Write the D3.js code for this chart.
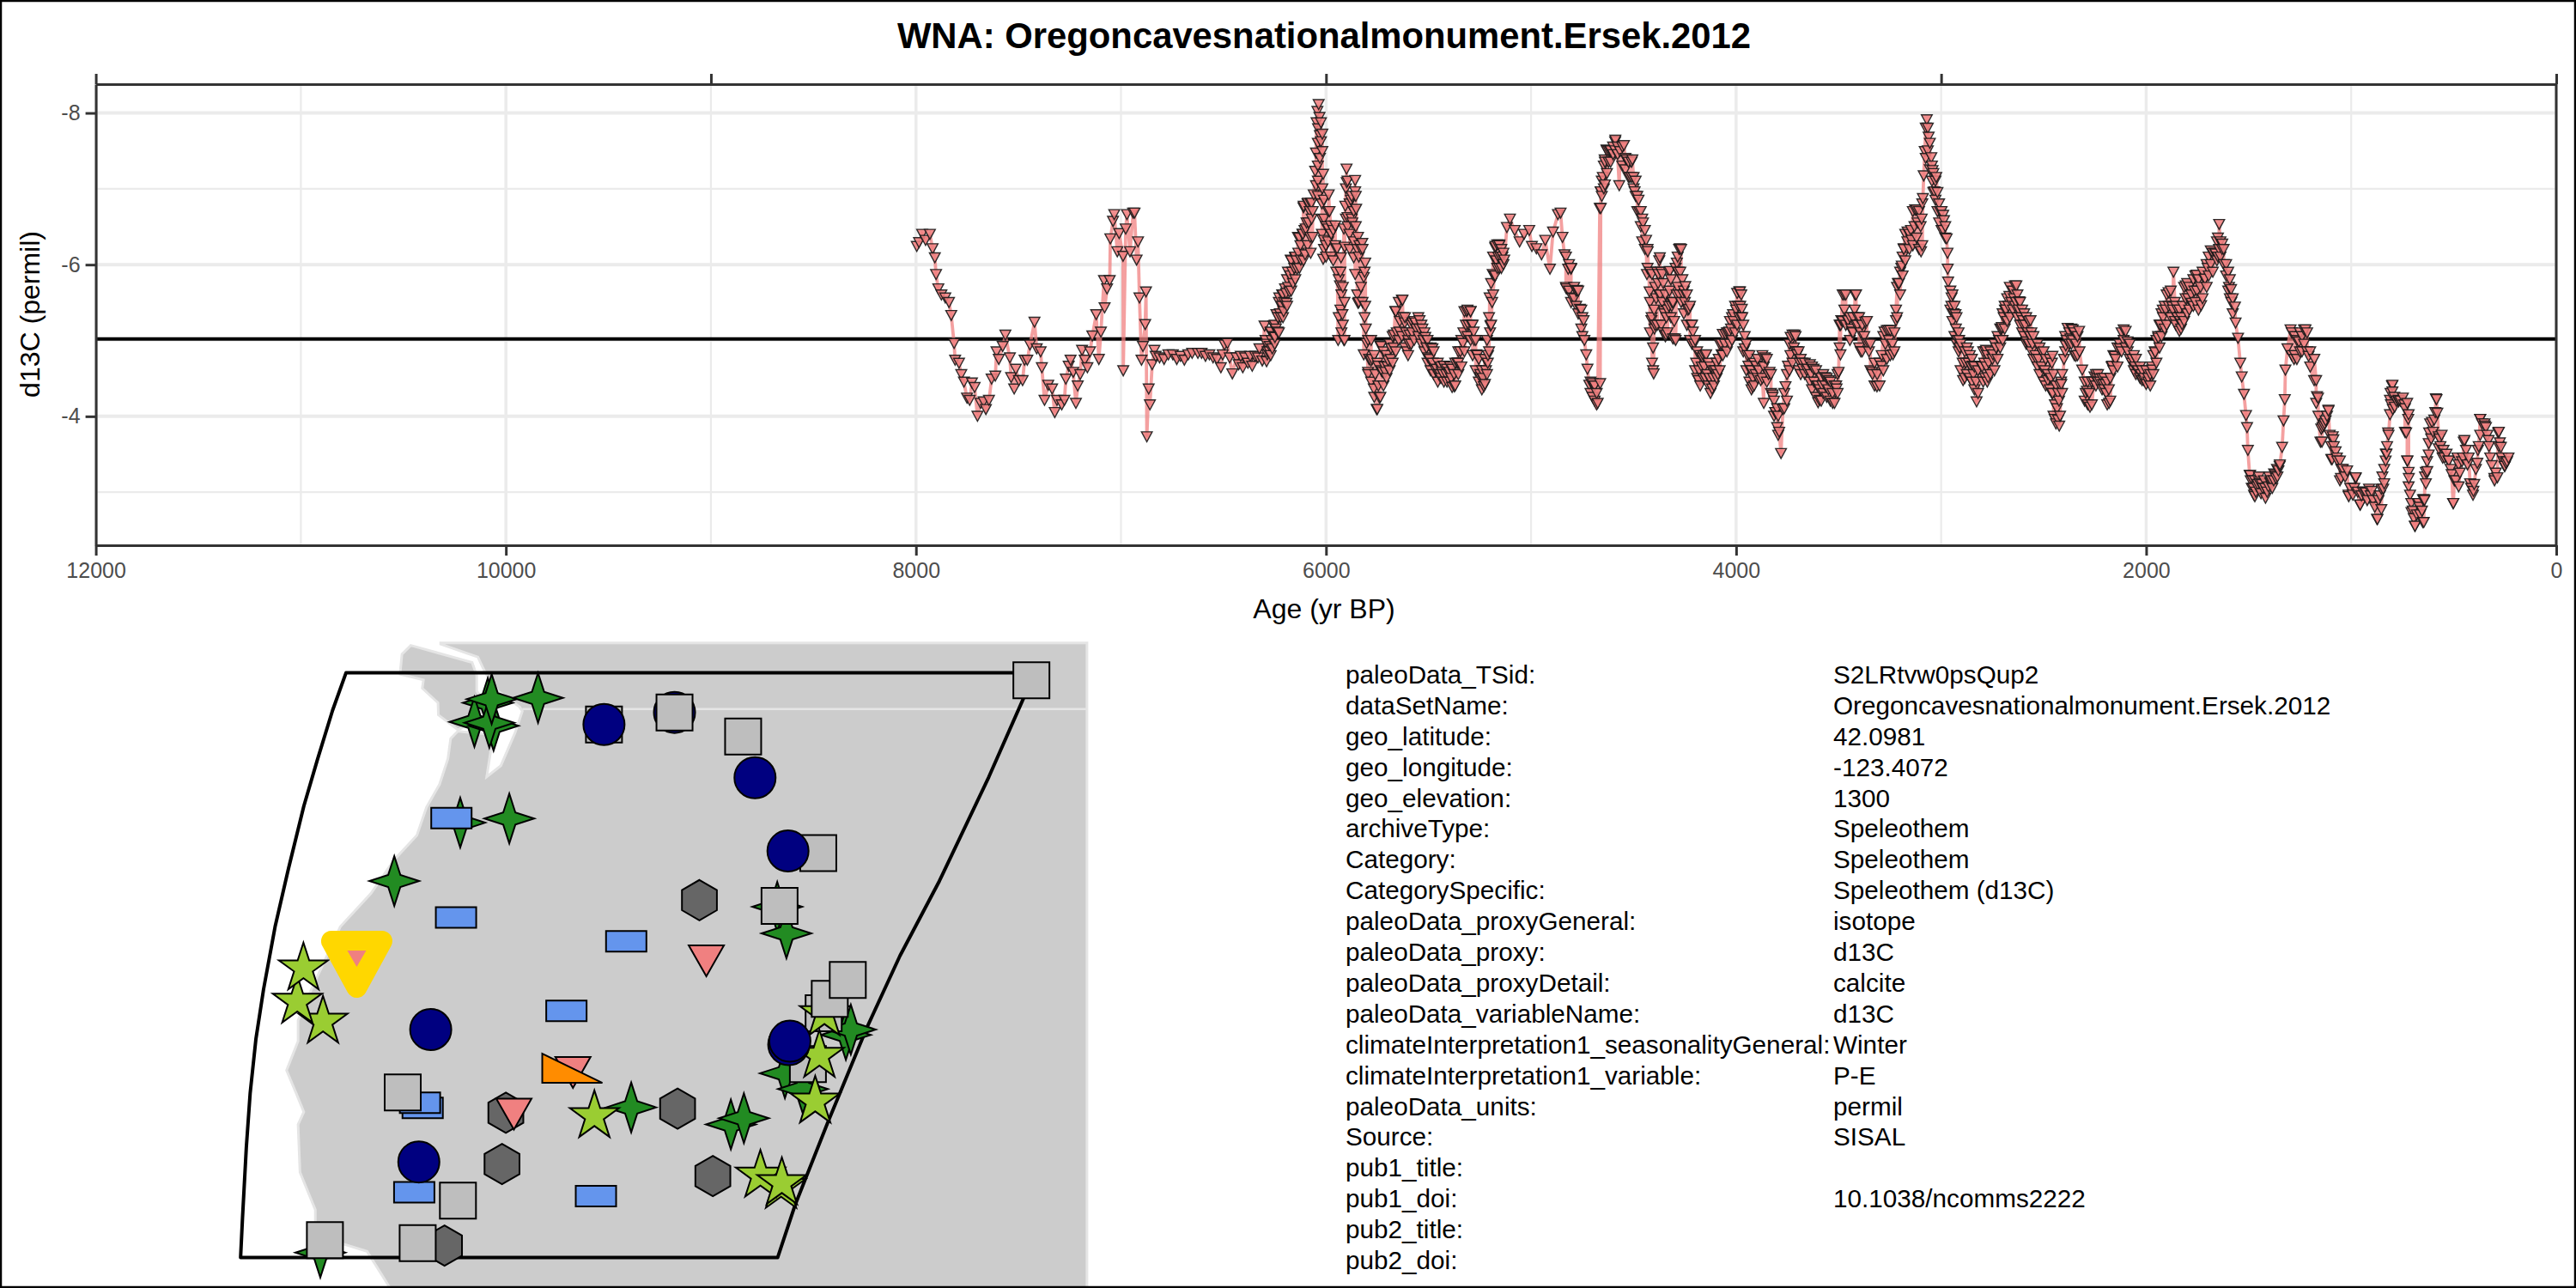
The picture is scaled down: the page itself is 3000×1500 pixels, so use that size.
<!DOCTYPE html>
<html>
<head>
<meta charset="utf-8">
<script src="https://d3js.org/d3.v7.min.js"></script>
<style>
  body { margin: 0; background: #fff; }
  text { font-family: "Liberation Sans", Arial, sans-serif; }
</style>
</head>
<body>
<svg id="chart" width="3000" height="1500"></svg>
<script>
var titleText = 'WNA: Oregoncavesnationalmonument.Ersek.2012';

// age (yr BP) and d13C (permil), same order in both arrays
var ages = [
  7996,7985,7970,7953,7932,7919,7908,7902,7891,7876,7857,7839,
  7828,7814,7809,7790,7779,7766,7751,7738,7727,7714,7700,7685,
  7670,7659,7644,7631,7613,7607,7596,7577,7564,7542,7536,7521,
  7513,7498,7480,7470,7457,7444,7422,7411,7392,7386,7373,7355,
  7336,7323,7312,7289,7276,7269,7255,7246,7233,7220,7211,7199,
  7190,7177,7164,7151,7140,7121,7108,7098,7083,7080,7068,7055,
  7052,7039,7033,7018,7009,6990,6989,6977,6971,6956,6941,6934,
  6924,6917,6910,6900,6893,6882,6878,6874,6865,6859,6848,6837,
  6831,6812,6790,6769,6747,6728,6710,6691,6672,6653,6625,6607,
  6588,6569,6551,6532,6513,6504,6495,6481,6470,6457,6437,6426,
  6416,6406,6395,6381,6370,6360,6346,6332,6325,6311,6300,6295,
  6286,6276,6269,6262,6256,6249,6242,6235,6228,6221,6214,6207,
  6200,6193,6186,6179,6172,6161,6151,6141,6137,6123,6113,6109,
  6102,6099,6088,6077,6071,6066,6060,6053,6049,6049,6046,6042,
  6039,6036,6032,6025,6025,6018,6018,6018,6018,6014,6014,6011,
  6011,6001,5990,5987,5983,5976,5955,5955,5946,5941,5932,5927,
  5920,5913,5913,5909,5906,5900,5899,5895,5886,5879,5872,5865,
  5858,5858,5858,5853,5844,5844,5837,5823,5816,5816,5809,5809,
  5806,5802,5795,5781,5767,5753,5746,5739,5732,5725,5711,5697,
  5683,5669,5662,5641,5627,5616,5605,5592,5578,5564,5544,5530,
  5516,5502,5481,5460,5443,5435,5426,5398,5374,5355,5333,5314,
  5295,5280,5267,5248,5230,5211,5202,5198,5187,5174,5155,5131,
  5118,5103,5080,5056,5034,5009,4996,4974,4949,4931,4908,4893,
  4869,4856,4847,4837,4828,4819,4805,4800,4776,4762,4744,4740,
  4731,4725,4716,4693,4675,4665,4663,4660,4650,4641,4632,4613,
  4589,4570,4566,4547,4534,4519,4506,4495,4476,4473,4454,4439,
  4435,4431,4422,4413,4402,4398,4379,4372,4360,4351,4342,4323,
  4314,4299,4289,4274,4258,4248,4230,4211,4183,4164,4146,4117,
  4089,4071,4052,4033,4015,3981,3972,3958,3940,3919,3902,3880,
  3865,3859,3837,3822,3809,3790,3781,3772,3759,3747,3734,3715,
  3702,3678,3650,3622,3594,3566,3547,3529,3510,3500,3491,3487,
  3472,3454,3435,3420,3407,3392,3370,3355,3336,3313,3291,3276,
  3257,3235,3220,3211,3192,3183,3164,3145,3127,3098,3089,3085,
  3080,3070,3061,3048,3042,3033,3024,3005,2986,2973,2969,2968,
  2966,2949,2930,2912,2893,2869,2846,2827,2805,2781,2771,2747,
  2715,2704,2689,2667,2633,2620,2601,2583,2564,2536,2508,2480,
  2457,2446,2424,2414,2401,2392,2383,2358,2343,2327,2312,2289,
  2274,2252,2227,2199,2181,2166,2153,2128,2110,2091,2068,2040,
  2012,1990,1971,1956,1941,1919,1891,1872,1867,1848,1825,1807,
  1779,1754,1732,1713,1685,1661,1644,1629,1610,1586,1567,1564,
  1552,1541,1534,1523,1513,1508,1504,1493,1470,1448,1418,1392,
  1367,1349,1337,1330,1324,1321,1311,1296,1279,1255,1223,1208,
  1180,1171,1162,1143,1134,1111,1093,1087,1068,1050,1012,979,
  956,928,900,872,844,831,820,806,801,788,769,741,
  732,726,722,719,707,689,676,651,644,629,620,606,
  584,573,554,526,502,476,451,433,404,382,371,348,
  330,302,283,270,251,233
];
var d13C = [
  -6.24,-6.29,-6.40,-6.32,-6.40,-6.21,-6.09,-5.87,-5.68,-5.60,-5.56,-5.50,
  -5.33,-4.96,-4.74,-4.70,-4.55,-4.45,-4.24,-4.21,-4.44,-4.38,-4.00,-4.17,
  -4.19,-4.09,-4.21,-4.49,-4.53,-4.85,-4.75,-4.92,-5.07,-4.77,-4.51,-4.36,
  -4.62,-4.47,-4.47,-4.74,-4.74,-4.94,-5.24,-4.89,-4.85,-4.64,-4.21,-4.41,
  -4.36,-4.05,-4.21,-4.15,-4.21,-4.49,-4.66,-4.74,-4.58,-4.17,-4.40,-4.55,
  -4.87,-4.74,-4.64,-4.85,-5.06,-5.34,-4.75,-5.11,-5.79,-5.43,-5.68,-5.79,
  -6.34,-6.57,-6.66,-6.17,-6.41,-6.11,-4.60,-6.47,-6.66,-6.17,-6.68,-6.68,
  -6.06,-6.30,-5.56,-4.74,-4.92,-5.21,-5.64,-3.73,-4.36,-4.15,-4.68,-4.87,
  -4.79,-4.77,-4.75,-4.81,-4.81,-4.75,-4.79,-4.74,-4.81,-4.83,-4.83,-4.83,
  -4.79,-4.81,-4.77,-4.75,-4.64,-4.81,-4.94,-4.96,-4.77,-4.56,-4.77,-4.68,
  -4.79,-4.64,-4.77,-4.70,-4.79,-4.66,-4.79,-4.77,-4.89,-4.73,-5.19,-5.00,
  -4.81,-4.85,-5.11,-4.89,-5.19,-5.04,-5.34,-5.11,-5.56,-5.30,-5.60,-5.38,
  -5.68,-5.49,-5.90,-5.64,-6.06,-5.75,-6.09,-5.94,-6.36,-6.06,-6.40,-6.77,
  -6.13,-6.47,-6.81,-6.36,-6.81,-6.36,-6.92,-7.23,-7.04,-7.47,-7.87,-8.02,
  -7.79,-8.11,-7.94,-7.87,-7.62,-7.72,-7.49,-7.00,-6.59,-7.19,-6.07,-6.85,
  -6.32,-6.25,-6.47,-6.92,-6.70,-6.51,-6.51,-6.25,-6.21,-5.00,-5.72,-6.09,
  -5.34,-6.47,-5.00,-6.23,-6.77,-7.26,-7.08,-6.62,-6.40,-6.85,-6.55,-6.09,
  -7.11,-6.96,-5.87,-6.73,-6.36,-5.49,-6.25,-6.28,-5.83,-4.81,-5.45,-6.02,
  -5.15,-4.96,-4.58,-4.73,-4.36,-4.09,-4.66,-4.24,-4.92,-4.58,-4.58,-4.73,
  -4.89,-5.07,-5.38,-5.11,-5.53,-5.23,-4.85,-5.07,-5.23,-5.23,-5.26,-5.15,
  -5.04,-4.77,-4.89,-4.62,-4.55,-4.58,-4.66,-4.58,-4.39,-4.70,-4.96,-5.38,
  -5.38,-5.11,-4.81,-4.51,-4.39,-4.70,-5.56,-5.19,-5.87,-6.24,-6.26,-6.06,
  -6.49,-6.60,-6.45,-6.30,-6.40,-6.45,-6.24,-6.21,-6.13,-6.32,-5.94,-6.43,
  -6.66,-6.68,-6.36,-6.13,-5.68,-5.94,-5.94,-5.56,-5.66,-5.41,-5.26,-5.00,
  -4.81,-4.62,-4.41,-4.39,-4.17,-6.74,-4.43,-6.96,-7.15,-7.38,-7.51,-7.49,
  -7.64,-7.04,-7.49,-7.57,-7.38,-7.15,-7.38,-6.96,-6.85,-6.70,-6.55,-6.32,
  -5.87,-6.17,-5.64,-5.26,-4.56,-5.15,-5.87,-6.09,-5.87,-5.38,-5.07,-5.91,
  -5.45,-5.02,-6.02,-6.21,-5.60,-5.71,-5.41,-5.11,-4.47,-4.77,-4.81,-4.36,
  -4.55,-4.81,-5.08,-5.11,-5.34,-5.64,-5.41,-4.89,-4.66,-4.38,-4.66,-4.47,
  -4.17,-4.77,-4.58,-4.28,-4.05,-3.79,-3.51,-4.09,-4.39,-4.66,-5.04,-5.07,
  -4.81,-4.70,-4.62,-4.62,-4.21,-4.51,-4.47,-4.17,-4.36,-4.58,-4.81,-5.26,
  -5.60,-5.26,-5.11,-5.60,-5.30,-4.85,-5.24,-4.96,-4.58,-4.39,-4.66,-5.11,
  -5.13,-4.81,-5.26,-5.75,-5.98,-6.21,-6.43,-6.32,-6.72,-6.17,-6.87,-7.17,
  -7.49,-7.91,-7.68,-7.41,-7.24,-6.96,-7.15,-6.70,-6.58,-6.34,-6.15,-5.94,
  -5.77,-5.56,-5.34,-5.00,-4.47,-4.85,-4.66,-4.19,-4.66,-4.87,-4.51,-4.81,
  -5.00,-5.17,-5.40,-5.58,-5.72,-5.51,-5.26,-4.98,-5.26,-4.75,-4.84,-4.47,
  -4.79,-3.96,-3.87,-4.42,-4.75,-4.93,-5.16,-5.14,-4.79,-5.12,-4.61,-4.33,
  -4.12,-4.52,-4.49,-4.42,-4.17,-4.66,-4.79,-4.89,-5.14,-4.98,-4.75,-4.59,
  -4.47,-4.45,-4.61,-4.84,-5.03,-5.40,-5.63,-5.44,-5.90,-5.40,-5.21,-5.72,
  -5.49,-5.86,-5.46,-5.81,-6.18,-6.14,-6.53,-6.27,-6.00,-5.67,-5.44,-5.23,
  -5.03,-4.70,-4.52,-4.29,-4.01,-3.85,-3.55,-3.22,-2.94,-3.13,-2.92,-3.13,
  -3.18,-3.34,-3.59,-3.94,-4.22,-4.61,-4.89,-5.14,-4.75,-4.98,-5.14,-4.79,
  -4.75,-4.47,-4.24,-3.66,-3.87,-4.08,-3.43,-3.69,-3.41,-3.18,-2.94,-3.18,
  -2.83,-2.99,-3.01,-2.64,-3.04,-3.50,-3.78,-4.15,-4.40,-4.12,-4.19,-4.15,
  -3.78,-3.41,-3.96,-3.18,-2.85,-2.55,-2.85,-2.60,-2.90,-3.27,-3.78,-3.92,
  -4.22,-3.73,-3.45,-3.41,-2.85,-3.36,-3.66,-3.36,-3.01,-3.55,-3.96,-3.87,
  -3.68,-3.18,-3.78,-3.59,-3.34,-3.45
];

// crowded stretches: age with the upper and lower edge of the band at that age
var denseBand = [
  [6290,-4.95,-4.72],[6270,-5.10,-4.80],[6250,-5.20,-4.95],[6230,-5.50,-5.10],[6210,-5.60,-5.30],[6190,-5.80,-5.45],
  [6170,-6.05,-5.65],[6150,-6.10,-5.80],[6130,-6.35,-5.95],[6110,-6.75,-6.05],[6090,-6.80,-6.25],[6075,-6.80,-6.15],
  [6040,-7.60,-7.30],[6040,-7.10,-6.90],[6030,-7.70,-7.40],[6020,-6.80,-6.40],[6010,-6.60,-6.20],[6000,-6.50,-6.10],
  [5990,-6.70,-6.30],[5975,-6.40,-6.10],[5965,-6.45,-6.05],[5950,-6.20,-5.90],[5938,-5.80,-5.30],[5930,-5.90,-5.40],
  [5925,-5.60,-5.10],[5918,-5.70,-5.20],[5910,-5.50,-5.00],[5903,-7.00,-6.60],[5895,-7.10,-6.50],[5885,-6.80,-6.20],
  [5875,-6.90,-6.60],[5865,-6.70,-6.30],[5855,-6.90,-6.50],[5848,-6.20,-5.60],[5840,-6.10,-5.50],[5830,-6.20,-5.70],
  [5822,-6.20,-5.50],[5812,-5.90,-5.30],
  [5795,-5.00,-4.55],[5780,-5.00,-4.45],[5765,-4.80,-4.25],[5750,-4.70,-4.09],[5735,-4.92,-4.25],[5720,-4.85,-4.40],
  [5705,-4.80,-4.50],[5690,-4.95,-4.60],[5675,-5.05,-4.70],[5660,-5.38,-4.85],[5645,-5.50,-5.00],[5630,-5.53,-5.05],
  [5615,-5.30,-4.90],[5600,-5.00,-4.80],[5585,-5.20,-4.95],[5570,-5.25,-5.00],[5550,-5.30,-5.05],[5535,-5.20,-4.95],
  [5520,-5.10,-4.85],[5505,-5.00,-4.70],[5490,-4.90,-4.60],[5475,-4.85,-4.55],[5455,-4.70,-4.45],[5440,-4.65,-4.50],
  [5425,-4.66,-4.45],[5410,-4.62,-4.45],[5395,-4.65,-4.45],[5385,-4.62,-4.38],[5370,-4.70,-4.40],[5355,-4.85,-4.55],
  [5340,-5.00,-4.65],[5325,-5.38,-4.85],[5310,-5.40,-5.05],[5295,-5.38,-5.00],[5285,-5.20,-4.80],[5270,-5.00,-4.60],
  [5255,-4.75,-4.45],[5240,-4.60,-4.35],[5225,-4.75,-4.42],[5215,-5.00,-4.55],[5205,-5.30,-4.85],[5195,-5.75,-5.20],
  [5185,-6.10,-5.60],[5175,-6.22,-5.85],[5165,-6.26,-5.95],[5155,-6.25,-5.95],[5145,-6.20,-5.95],[5135,-6.15,-6.00],
  [4830,-6.10,-5.70],[4815,-6.00,-5.65],[4805,-5.95,-5.50],[4790,-5.70,-5.55],[4780,-5.65,-5.45],[4770,-5.65,-5.35],
  [4755,-5.40,-5.15],[4750,-5.30,-5.05],[4710,-4.45,-4.30],[4700,-4.43,-4.25],[4690,-4.40,-4.20],[4680,-4.30,-4.15],
  [4660,-6.96,-6.74],[4655,-7.10,-6.90],[4645,-7.30,-7.00],[4640,-7.35,-7.05],[4630,-7.50,-7.20],[4622,-7.50,-7.35],
  [4612,-7.50,-7.35],[4600,-7.55,-7.45],[4590,-7.62,-7.50],[4578,-7.55,-7.45],[4555,-7.55,-7.30],[4540,-7.40,-7.25],
  [4525,-7.35,-7.15],[4510,-7.35,-7.15],[4500,-7.15,-7.00],[4490,-7.10,-6.90],[4482,-6.90,-6.70],[4465,-6.70,-6.50],
  [4458,-6.60,-6.30],[4445,-6.45,-6.20],[4432,-6.20,-5.95],
  [4420,-5.90,-5.10],[4410,-5.87,-4.70],[4405,-4.90,-4.60],[4395,-5.70,-5.20],[4385,-5.90,-5.20],[4375,-6.05,-5.60],
  [4365,-5.90,-5.20],[4355,-5.75,-5.10],[4345,-5.60,-5.05],[4335,-5.40,-5.10],[4328,-5.90,-5.45],[4318,-5.80,-5.30],
  [4308,-5.50,-5.02],[4295,-5.95,-5.00],[4285,-6.10,-5.70],[4278,-6.20,-5.60],[4268,-6.20,-5.50],[4255,-5.65,-5.35],
  [4240,-5.60,-5.20],[4225,-5.45,-5.00],[4215,-5.20,-4.95],[4200,-5.00,-4.60],[4190,-4.85,-4.50],[4175,-4.80,-4.40],
  [4160,-4.80,-4.50],[4150,-4.80,-4.50],[4135,-4.70,-4.40],[4125,-4.65,-4.30],[4108,-4.60,-4.40],[4095,-4.70,-4.50],
  [4080,-4.95,-4.60],[4065,-5.08,-4.80],[4045,-5.10,-4.85],[4030,-5.25,-4.95],[4020,-5.30,-5.00],[4005,-5.45,-5.10],
  [3995,-5.62,-5.20],[3985,-5.64,-5.30],[3975,-5.60,-5.30],[3965,-5.20,-4.85],[3950,-4.95,-4.60],[3935,-4.80,-4.45],
  [3925,-4.60,-4.35],[3912,-4.70,-4.40],[3895,-4.75,-4.50],[3872,-4.80,-4.50],[3850,-4.75,-4.45],[3830,-4.55,-4.30],
  [3815,-4.20,-4.00],[3800,-4.10,-3.85],[3795,-4.00,-3.75],[3765,-4.30,-4.10],[3752,-4.55,-4.20],[3740,-4.95,-4.60],
  [3725,-5.07,-4.70],[3710,-5.05,-4.85],[3695,-4.85,-4.60],[3685,-4.75,-4.55],[3665,-4.70,-4.55],[3640,-4.68,-4.45],
  [3630,-4.65,-4.35],[3610,-4.60,-4.25],[3600,-4.40,-4.18],[3585,-4.50,-4.20],[3575,-4.55,-4.30],[3558,-4.50,-4.25],
  [3540,-4.45,-4.20],[3520,-4.40,-4.17],[3505,-4.55,-4.30],[3495,-5.20,-4.90],[3480,-5.60,-5.25],[3465,-5.60,-5.20],
  [3445,-5.30,-5.00],[3430,-5.30,-5.10],[3415,-5.60,-5.20],[3400,-5.30,-4.90],[3385,-5.20,-4.85],[3362,-5.25,-4.95],
  [3345,-4.95,-4.60],[3325,-4.70,-4.40],[3300,-4.70,-4.40],[3282,-5.05,-4.60],[3265,-5.13,-4.75],[3248,-5.13,-4.80],
  [3228,-5.10,-4.85],[3215,-5.70,-5.30],[3200,-5.90,-5.60],[3188,-6.10,-5.85],[3175,-6.40,-6.05],[3155,-6.40,-6.20],
  [3138,-6.70,-6.25],[3120,-6.72,-6.35],[3108,-6.70,-6.20],[3092,-6.80,-6.25],
  [3075,-7.80,-7.40],[3065,-7.80,-7.50],[3055,-7.60,-7.25],[3045,-7.30,-7.10],[3038,-7.20,-6.95],[3028,-7.10,-6.85],
  [3018,-6.95,-6.70],[3010,-6.80,-6.55],[2998,-6.70,-6.45],[2990,-6.65,-6.45],[2980,-6.50,-6.35],
  [2955,-5.65,-5.40],[2945,-5.60,-5.25],[2935,-5.45,-5.05],[2925,-5.30,-4.95],[2915,-5.10,-4.85],[2905,-4.95,-4.60],
  [2885,-4.85,-4.50],[2875,-4.90,-4.55],[2860,-4.80,-4.50],[2850,-4.75,-4.45],[2838,-4.65,-4.35],[2820,-4.60,-4.30],
  [2795,-4.85,-4.45],[2785,-4.85,-4.50],[2775,-4.80,-4.45],[2760,-4.85,-4.55],[2740,-4.95,-4.60],[2725,-5.05,-4.75],
  [2712,-5.15,-4.90],[2700,-5.35,-5.00],[2690,-5.45,-5.15],[2678,-5.55,-5.25],[2665,-5.70,-5.30],[2650,-5.65,-5.40],
  [2640,-5.72,-5.45],[2628,-5.60,-5.30],[2615,-5.50,-5.20],[2605,-5.40,-5.10],[2595,-5.35,-5.05],[2585,-5.30,-4.95],
  [2572,-5.25,-4.95],[2560,-5.10,-4.85],[2550,-5.05,-4.75],[2530,-4.95,-4.65],[2520,-4.90,-4.55],[2500,-4.85,-4.45],
  [2490,-4.75,-4.40],[2470,-4.75,-4.35],[2460,-4.70,-4.30],[2452,-4.55,-4.00],[2440,-4.40,-3.90],[2430,-4.30,-3.95],
  [2420,-4.40,-4.00],[2410,-4.55,-4.30],[2395,-5.05,-4.85],[2375,-5.10,-4.95],[2365,-5.15,-4.95],[2350,-5.10,-4.80],
  [2335,-5.05,-4.80],[2300,-4.45,-4.20],[2285,-4.45,-4.15],[2265,-4.45,-4.15],[2245,-4.55,-4.40],[2235,-4.55,-4.45],
  [2215,-4.50,-4.35],[2205,-4.50,-4.35],[2190,-4.45,-4.15],[2175,-4.50,-4.20],[2160,-4.80,-4.60],[2140,-4.90,-4.65],
  [2120,-5.10,-4.85],[2100,-5.12,-4.90],[2080,-4.95,-4.75],[2060,-4.80,-4.60],[2050,-4.75,-4.55],[2030,-4.65,-4.50],
  [2020,-4.60,-4.47],[2000,-4.60,-4.42],[1980,-4.55,-4.40],[1965,-4.80,-4.55],[1950,-5.00,-4.70],[1935,-5.20,-4.90],
  [1925,-5.35,-5.05],[1910,-5.45,-5.15],[1900,-5.60,-5.20],[1880,-5.65,-5.30],[1860,-5.50,-5.25],[1855,-5.45,-5.20],
  [1838,-5.40,-5.12],[1830,-5.30,-5.15],[1815,-5.70,-5.25],[1800,-5.75,-5.35],[1790,-5.70,-5.40],[1770,-5.80,-5.45],
  [1760,-5.85,-5.50],[1745,-5.80,-5.40],[1725,-5.90,-5.55],[1705,-6.00,-5.70],[1695,-6.10,-5.85],[1675,-6.15,-5.90],
  [1655,-6.30,-6.05],[1650,-6.35,-6.10],[1638,-6.30,-6.10],[1622,-6.20,-6.00],[1600,-5.90,-5.65],[1592,-5.80,-5.55],
  [1578,-5.55,-5.35],
  [1290,-5.10,-4.80],[1275,-5.05,-4.80],[1265,-5.00,-4.75],[1250,-5.10,-4.85],[1240,-5.05,-4.85],[1230,-5.14,-4.95],
  [1215,-5.10,-4.85],[1200,-4.85,-4.65]
];

// readings from the middle of the crowded bands
var midAges = [
  6285,6275,6265,6255,6245,6235,6225,6215,6205,6195,6185,6175,6165,6155,6145,6135,6125,6115,6105,6095,6085,6080,6070,6065,
  5790,5775,5760,5745,5730,5715,5700,5685,5670,5655,5640,5625,5610,5595,5580,5560,5545,5525,5510,5495,5480,5465,5450,
  5430,5415,5400,5390,5375,5360,5345,5330,5318,5305,5290,5278,5262,5248,5235,5220,5210,5200,5190,5180,5170,5160,5150,5140,
  4420,4412,4400,4390,4380,4370,4360,4350,4340,4325,4312,4302,4290,4282,4272,4262,4250,4235,4220,4205,4195,4180,4168,4155,
  4142,4130,4112,4100,4085,4072,4055,4038,4025,4012,4000,3990,3980,3970,3958,3945,3930,3918,3905,3888,3865,3842,3822,3808,
  3735,3718,3703,3690,3675,3655,3635,3620,3605,3592,3580,3565,3550,3530,3512,3490,3472,3455,3438,3422,3408,3392,3375,3352,
  3335,3312,3290,3272,3255,3238,3220,3206,3194,3182,3165,3147,3130,3115,3100,3095,
  2950,2940,2928,2920,2910,2895,2880,2866,2855,2843,2830,2800,2790,2780,2768,2750,2732,2718,2706,2695,2684,2672,2658,2645,
  2635,2622,2610,2600,2590,2578,2566,2555,2540,2525,2510,2495,2480,2465,2456,2445,2435,2425,2415,2388,2370,2358,2342,2325,
  2295,2278,2255,2240,2225,2210,2195,2182,2168,2150,2130,2110,2090,2070,2055,2040,2025,2010,1990,1972,1958,1942,1930,1918,
  1905,1890,1870,1848,1835,1822,1808,1795,1780,1765,1752,1735,1715,1700,1685,1665,1645,1630,1610,1596,1585,
  1490,1478,1470,1456,1436,1420,1395,1370,1160,1140,1130,1118,1105,1085,1070,1048,1030,1005,985,968,950,935,905,885,860,848,828,
  808,790,780,760,738,700,695,680,668,655,650,640,630,610,595,590,570,565,550,535,515,490,470,460,440,415,400,392,378,362,343,328,315,295,275,258,245,240
];
var midD13C = [
  -4.85,-4.92,-5.00,-5.05,-5.15,-5.30,-5.35,-5.45,-5.50,-5.62,-5.70,-5.85,-5.90,-5.95,-6.05,-6.15,-6.25,-6.40,-6.45,-6.55,-6.55,-6.70,-6.60,-6.70,
  -4.75,-4.75,-4.55,-4.40,-4.60,-4.65,-4.65,-4.75,-4.90,-5.10,-5.25,-5.30,-5.10,-4.95,-5.10,-5.15,-5.15,-5.00,-4.90,-4.75,-4.70,-4.60,-4.55,
  -4.55,-4.55,-4.55,-4.50,-4.55,-4.70,-4.85,-5.10,-5.20,-5.20,-5.20,-5.00,-4.80,-4.55,-4.50,-4.60,-4.80,-5.10,-5.50,-5.85,-6.05,-6.10,-6.10,-6.10,
  -5.50,-5.30,-5.40,-5.55,-5.75,-5.60,-5.50,-5.35,-5.30,-5.65,-5.50,-5.25,-5.60,-5.90,-5.90,-5.80,-5.50,-5.40,-5.20,-4.95,-4.70,-4.60,-4.65,-4.65,
  -4.55,-4.50,-4.50,-4.60,-4.75,-4.95,-4.95,-5.10,-5.15,-5.25,-5.40,-5.45,-5.45,-5.30,-5.05,-4.80,-4.60,-4.50,-4.55,-4.60,-4.65,-4.55,-4.25,-4.05,
  -4.80,-4.90,-4.85,-4.70,-4.62,-4.60,-4.55,-4.45,-4.40,-4.35,-4.40,-4.40,-4.35,-4.30,-4.40,-5.20,-5.40,-5.25,-5.15,-5.40,-5.20,-5.10,-5.05,-4.85,
  -4.55,-4.55,-4.80,-4.95,-5.00,-4.95,-5.40,-5.75,-5.95,-6.20,-6.30,-6.45,-6.50,-6.55,-6.50,-6.60,
  -5.45,-5.35,-5.15,-5.00,-4.90,-4.70,-4.70,-4.70,-4.65,-4.55,-4.45,-4.65,-4.70,-4.65,-4.70,-4.75,-4.90,-5.00,-5.15,-5.30,-5.40,-5.45,-5.50,-5.55,
  -5.50,-5.40,-5.30,-5.20,-5.20,-5.10,-5.05,-4.95,-4.80,-4.75,-4.65,-4.60,-4.55,-4.50,-4.30,-4.15,-4.10,-4.20,-4.45,-5.00,-5.02,-5.00,-4.95,-4.85,
  -4.30,-4.30,-4.45,-4.50,-4.45,-4.42,-4.30,-4.35,-4.65,-4.75,-4.95,-5.00,-4.85,-4.70,-4.65,-4.60,-4.55,-4.50,-4.50,-4.65,-4.85,-5.05,-5.20,-5.30,
  -5.40,-5.45,-5.40,-5.30,-5.25,-5.45,-5.55,-5.55,-5.60,-5.65,-5.65,-5.70,-5.80,-5.95,-6.00,-6.15,-6.20,-6.20,-5.85,-5.70,-5.50,
  -3.15,-3.05,-3.15,-3.10,-3.10,-3.05,-3.12,-3.22,-4.00,-3.85,-3.90,-4.00,-3.75,-3.60,-3.45,-3.30,-3.20,-3.05,-3.05,-3.00,-2.95,-3.00,-2.95,-2.80,-2.95,-3.20,-3.50,
  -4.30,-4.25,-4.20,-4.20,-4.10,-2.75,-2.65,-2.70,-2.80,-2.75,-2.90,-3.20,-3.40,-3.70,-3.95,-4.05,-3.70,-3.60,-3.55,-3.50,-3.30,-3.15,-3.25,-3.40,-3.55,-3.05,-3.10,-3.30,-3.60,-3.90,-3.85,-3.60,-3.35,-3.25,-3.65,-3.40,-3.38,-3.40
];

// single readings from the last crop of the record
var lateAges = [
  1495,1485,1481,1474,1465,1460,1450,1446,1440,1432,1425,1410,1404,1400,1390,1385,1378,1376,1362,1360,1355,1348,
  1181,1167,1171,1150,1146,1125,1111,1097,1097,1090,1076,1055,1055,1041,1020,1013,992,978,957,943,922,913,894,874,
  867,853,853,839,839,832,825,818,811,811,799,799,797,769,748,738,727,727,720,720,720,713,706,689,671,664,646,643,
  636,636,622,622,615,601,587,580,573,559,545,524,510,503,497,482,476,455,448,427,420,406,385,371,371,350,336,322,
  301,287,280,280,266,252
];
var lateD13C = [
  -3.22,-3.05,-3.15,-2.96,-3.00,-3.07,-3.20,-3.11,-2.98,-3.05,-3.15,-3.00,-3.07,-3.20,-3.15,-3.05,-3.15,-3.24,-3.30,-3.20,-3.28,-3.36,
  -4.47,-4.26,-4.17,-3.66,-3.83,-3.94,-4.07,-3.60,-3.43,-3.73,-3.53,-3.41,-3.15,-3.30,-3.28,-2.96,-2.96,-3.19,-2.83,-3.00,-2.89,-3.04,-2.89,-2.64,
  -2.89,-3.04,-2.77,-3.11,-3.30,-3.41,-3.60,-3.75,-4.02,-4.21,-4.41,-4.32,-4.09,-4.21,-4.24,-3.79,-4.17,-3.41,-4.02,-3.26,-3.07,-2.96,-2.73,-2.55,-2.85,-2.70,-2.60,-2.89,
  -3.11,-3.26,-3.49,-3.64,-3.90,-3.79,-4.23,-4.04,-3.57,-3.75,-3.45,-3.41,-3.23,-2.85,-3.15,-3.45,-3.07,-3.45,-3.68,-3.45,-3.11,-2.96,-3.38,-3.96,-3.75,-3.90,-3.75,-3.45,
  -3.15,-3.19,-3.79,-3.60,-3.45,-3.34
];
var referenceValue = -5.02;

var xTicks = [12000, 10000, 8000, 6000, 4000, 2000, 0];
var xTopTicks = [12000, 9000, 6000, 3000, 0];
var xMinor = [11000, 9000, 7000, 5000, 3000, 1000];
var yTicks = [-8, -6, -4];
var yMinor = [-7, -5, -3];

// map layers, east / north in map units, one list per symbol
var landEdge = [[612,21],[709,52],[728,89],[762,134],[818,172],[825,182],[806,234],[769,313],[732,340],[743,275],[743,237],[694,234],[657,230],[638,248],[631,296],[609,358],[575,413],[550,480],[490,540],[430,620],[350,700],[300,800],[270,860],[240,925],[240,975],[210,1045],[235,1100],[255,1145],[240,1175],[245,1290],[285,1380],[285,1410],[350,1460],[420,1480],[480,1568],[2298,1568],[2298,18],[612,18]];
var islandEdge = [[534,24],[694,65],[706,96],[706,134],[735,165],[702,206],[657,227],[606,191],[605,162],[564,127],[567,107],[506,93],[511,45]];
var borderLine = [[825,177],[2298,177]];
var regionFrame = [[365,90],[2153,90],[2153,108],[2042,340],[1913,590],[1810,770],[1725,940],[1622,1170],[1536,1370],[1491,1495],[90,1495],[95,1400],[105,1230],[115,1100],[130,970],[150,850],[180,700],[215,560],[255,410],[290,300],[330,180]];

var hexSites = [[1287,636],[782,1147],[772,1270],[1230,1137],[1322,1299],[622,1466]];
var star4Sites = [[735,162],[700,208],[750,217],[739,210],[745,153],[866,150],[663,450],[791,440],[491,590],[1490,652],[1514,716],[1109,1134],[1369,1175],[1403,1160],[298,1483],[1510,1052],[1557,1090],[1669,960],[1682,947]];
var rectSites = [[640,439],[652,678],[1096,735],[940,902],[565,1135],[558,1123],[543,1338],[1017,1347]];
var squareBackSites = [[1038,214],[1597,523],[1611,908],[1570,1030]];
var star5Sites = [[305,928],[238,880],[254,800],[1013,1155],[1500,1325],[1446,1298],[1502,1316],[1613,910],[1600,1010],[1589,1120]];
var circleSites = [[1222,185],[1038,214],[1432,342],[1518,518],[586,947],[555,1265],[1520,983],[1523,975]];
var squareSites = [[1222,185],[1401,243],[1496,650],[2153,108],[1627,873],[1674,828],[513,1098],[657,1358],[310,1453],[552,1460]];
var triangleSites = [[1305,782],[957,1050],[803,1150]];
var orangeSite = [[877,1075]];
var selectedSite = [[393,777]];

var tableLabels = ['paleoData_TSid:','dataSetName:','geo_latitude:','geo_longitude:','geo_elevation:','archiveType:','Category:','CategorySpecific:','paleoData_proxyGeneral:','paleoData_proxy:','paleoData_proxyDetail:','paleoData_variableName:','climateInterpretation1_seasonalityGeneral:','climateInterpretation1_variable:','paleoData_units:','Source:','pub1_title:','pub1_doi:','pub2_title:','pub2_doi:'];
var tableValues = ['S2LRtvw0psQup2','Oregoncavesnationalmonument.Ersek.2012','42.0981','-123.4072','1300','Speleothem','Speleothem','Speleothem (d13C)','isotope','d13C','calcite','d13C','Winter','P-E','permil','SISAL','','10.1038/ncomms2222','',''];

denseBand.forEach(function(r) {
  ages.push(r[0], r[0]);
  d13C.push(r[1], r[2]);
});
ages = ages.concat(midAges, lateAges);
d13C = d13C.concat(midD13C, lateD13C);

var svg = d3.select('#chart');

svg.append('rect').attr('width', 3000).attr('height', 1500).attr('fill', '#fff');

svg.append('text')
  .attr('x', 1542).attr('y', 56)
  .attr('text-anchor', 'middle')
  .attr('font-size', '41.8px').attr('font-weight', 'bold')
  .text(titleText);

var x = d3.scaleLinear().domain([12000, 0]).range([111.6, 2977]);
var y = d3.scaleLinear().domain([-8.38, -2.30]).range([98, 635]);

var grid = svg.append('g');
function hGrid(vals, w) {
  grid.selectAll(null).data(vals).enter().append('line')
    .attr('x1', x.range()[0]).attr('x2', x.range()[1])
    .attr('y1', function(d) { return y(d); }).attr('y2', function(d) { return y(d); })
    .attr('stroke', '#EBEBEB').attr('stroke-width', w);
}
function vGrid(vals, w) {
  grid.selectAll(null).data(vals).enter().append('line')
    .attr('y1', y.range()[0]).attr('y2', y.range()[1])
    .attr('x1', function(d) { return x(d); }).attr('x2', function(d) { return x(d); })
    .attr('stroke', '#EBEBEB').attr('stroke-width', w);
}
hGrid(yMinor, 2.2);
vGrid(xMinor, 2.2);
hGrid(yTicks, 4);
vGrid(xTicks, 3.5);

// the line and the triangles sit on top of the black reference line
svg.append('line')
  .attr('x1', x.range()[0]).attr('x2', x.range()[1])
  .attr('y1', y(referenceValue)).attr('y2', y(referenceValue))
  .attr('stroke', '#000').attr('stroke-width', 4);

var order = d3.range(ages.length).sort(function(a, b) { return ages[b] - ages[a]; });
var line = d3.line()
  .x(function(i) { return x(ages[i]); })
  .y(function(i) { return y(d13C[i]); });

svg.append('path')
  .attr('d', line(order))
  .attr('fill', 'none')
  .attr('stroke', '#F08080')
  .attr('stroke-opacity', 0.75)
  .attr('stroke-width', 3.8);

var downTriangle = 'M-6.3,-5.8L6.3,-5.8L0,5.8Z';
svg.append('g').selectAll('path')
  .data(order)
  .enter().append('path')
  .attr('d', downTriangle)
  .attr('transform', function(i) { return 'translate(' + x(ages[i]) + ',' + y(d13C[i]) + ')'; })
  .attr('fill', '#F08080')
  .attr('fill-opacity', 0.88)
  .attr('stroke', '#1a1a1a')
  .attr('stroke-opacity', 0.9)
  .attr('stroke-width', 1.4);

function styleAxis(g) {
  g.selectAll('path').attr('stroke', '#333').attr('stroke-width', 3);
  g.selectAll('line').attr('stroke', '#333').attr('stroke-width', 3);
  g.selectAll('text').attr('fill', '#4D4D4D').attr('font-size', '25px')
    .attr('font-family', '"Liberation Sans", Arial, sans-serif');
}
svg.append('g').attr('transform', 'translate(0,' + y.range()[1] + ')')
  .call(d3.axisBottom(x).tickValues(xTicks).tickFormat(String).tickSize(12).tickSizeOuter(0).tickPadding(8))
  .call(styleAxis);
svg.append('g').attr('transform', 'translate(0,' + y.range()[0] + ')')
  .call(d3.axisTop(x).tickValues(xTopTicks).tickFormat('').tickSize(12).tickSizeOuter(0))
  .call(styleAxis);
svg.append('g').attr('transform', 'translate(' + x.range()[0] + ',0)')
  .call(d3.axisLeft(y).tickValues(yTicks).tickFormat(String).tickSize(12).tickSizeOuter(0).tickPadding(6))
  .call(styleAxis);
svg.append('line')
  .attr('x1', x.range()[1]).attr('x2', x.range()[1])
  .attr('y1', y.range()[0]).attr('y2', y.range()[1])
  .attr('stroke', '#333').attr('stroke-width', 3);

svg.append('text')
  .attr('x', 1542).attr('y', 720)
  .attr('text-anchor', 'middle').attr('font-size', '32px')
  .text('Age (yr BP)');
svg.append('text')
  .attr('transform', 'translate(46,366) rotate(-90)')
  .attr('text-anchor', 'middle').attr('font-size', '32px')
  .text('d13C (permil)');

// map
var mapX = d3.scaleLinear().domain([0, 1568]).range([240, 940]);
var mapY = d3.scaleLinear().domain([0, 1568]).range([740, 1500]);
var mapLine = d3.line()
  .x(function(d) { return mapX(d[0]); })
  .y(function(d) { return mapY(d[1]); });
var mapArea = svg.append('g');

mapArea.append('path').attr('d', mapLine(landEdge) + 'Z')
  .attr('fill', '#CCCCCC').attr('stroke', '#E5E5E5').attr('stroke-width', 3);
mapArea.append('path').attr('d', mapLine(islandEdge) + 'Z')
  .attr('fill', '#CCCCCC').attr('stroke', '#E5E5E5').attr('stroke-width', 3);
mapArea.append('path').attr('d', mapLine(borderLine))
  .attr('fill', 'none').attr('stroke', '#E5E5E5').attr('stroke-width', 2.5);
mapArea.append('path').attr('d', mapLine(regionFrame) + 'Z')
  .attr('fill', 'none').attr('stroke', '#000').attr('stroke-width', 4).attr('stroke-linejoin', 'round');

var radial = d3.lineRadial().curve(d3.curveLinearClosed);
function starShape(n, outer, inner) {
  var pts = d3.range(n * 2).map(function(i) {
    return [i * Math.PI / n, i % 2 ? inner : outer];
  });
  return radial(pts);
}
var hexShape = radial(d3.range(6).map(function(i) { return [i * Math.PI / 3, 23.5]; }));
var circleShape = d3.symbol(d3.symbolCircle, Math.PI * 24 * 24)();
var squareShape = 'M-21,-21H21V21H-21Z';
var rectShape = 'M-23.5,-12H23.5V12H-23.5Z';
var triangleShape = 'M-20.5,-18H20.5L0,18Z';
var orangeShape = 'M0,-34V0H70Z';

function drawSites(sites, shape, fill) {
  mapArea.append('g').selectAll('path')
    .data(sites)
    .enter().append('path')
    .attr('d', shape)
    .attr('transform', function(d) { return 'translate(' + mapX(d[0]) + ',' + mapY(d[1]) + ')'; })
    .attr('fill', fill)
    .attr('stroke', '#000')
    .attr('stroke-width', 2)
    .attr('stroke-linejoin', 'miter');
}
drawSites(hexSites, hexShape, '#666666');
drawSites(star4Sites, starShape(4, 29, 10), '#228B22');
drawSites(rectSites, rectShape, '#6495ED');
drawSites(squareBackSites, squareShape, '#BEBEBE');
drawSites(star5Sites, starShape(5, 30, 11.5), '#9ACD32');
drawSites(circleSites, circleShape, '#000080');
drawSites(squareSites, squareShape, '#BEBEBE');
drawSites(triangleSites, triangleShape, '#F08080');
drawSites(orangeSite, orangeShape, '#FF8C00');

// selected site: gold halo with a small triangle inside
mapArea.append('g').selectAll('path')
  .data(selectedSite)
  .enter().append('path')
  .attr('d', 'M-29.5,-20.6H29.5L0,33.4Z')
  .attr('transform', function(d) { return 'translate(' + mapX(d[0]) + ',' + mapY(d[1]) + ')'; })
  .attr('fill', '#FFD700').attr('stroke', '#FFD700')
  .attr('stroke-width', 24).attr('stroke-linejoin', 'round');
mapArea.append('g').selectAll('path')
  .data(selectedSite)
  .enter().append('path')
  .attr('d', 'M-11,-9.5H11L0,9.5Z')
  .attr('transform', function(d) { return 'translate(' + mapX(d[0]) + ',' + mapY(d[1]) + ')'; })
  .attr('fill', '#F08080');

// metadata table
var rowY = d3.scaleLinear().domain([0, 19]).range([796, 1478]);
var table = svg.append('g').attr('font-size', '29.7px').attr('fill', '#000');
table.selectAll('text.lab').data(tableLabels).enter().append('text')
  .attr('class', 'lab')
  .attr('x', 1567)
  .attr('y', function(d, i) { return rowY(i); })
  .text(function(d) { return d; });
table.selectAll('text.val').data(tableValues).enter().append('text')
  .attr('class', 'val')
  .attr('x', 2135)
  .attr('y', function(d, i) { return rowY(i); })
  .text(function(d) { return d; });

svg.append('rect')
  .attr('x', 1).attr('y', 1).attr('width', 2998).attr('height', 1498)
  .attr('fill', 'none').attr('stroke', '#000').attr('stroke-width', 2.5);
</script>
</body>
</html>
